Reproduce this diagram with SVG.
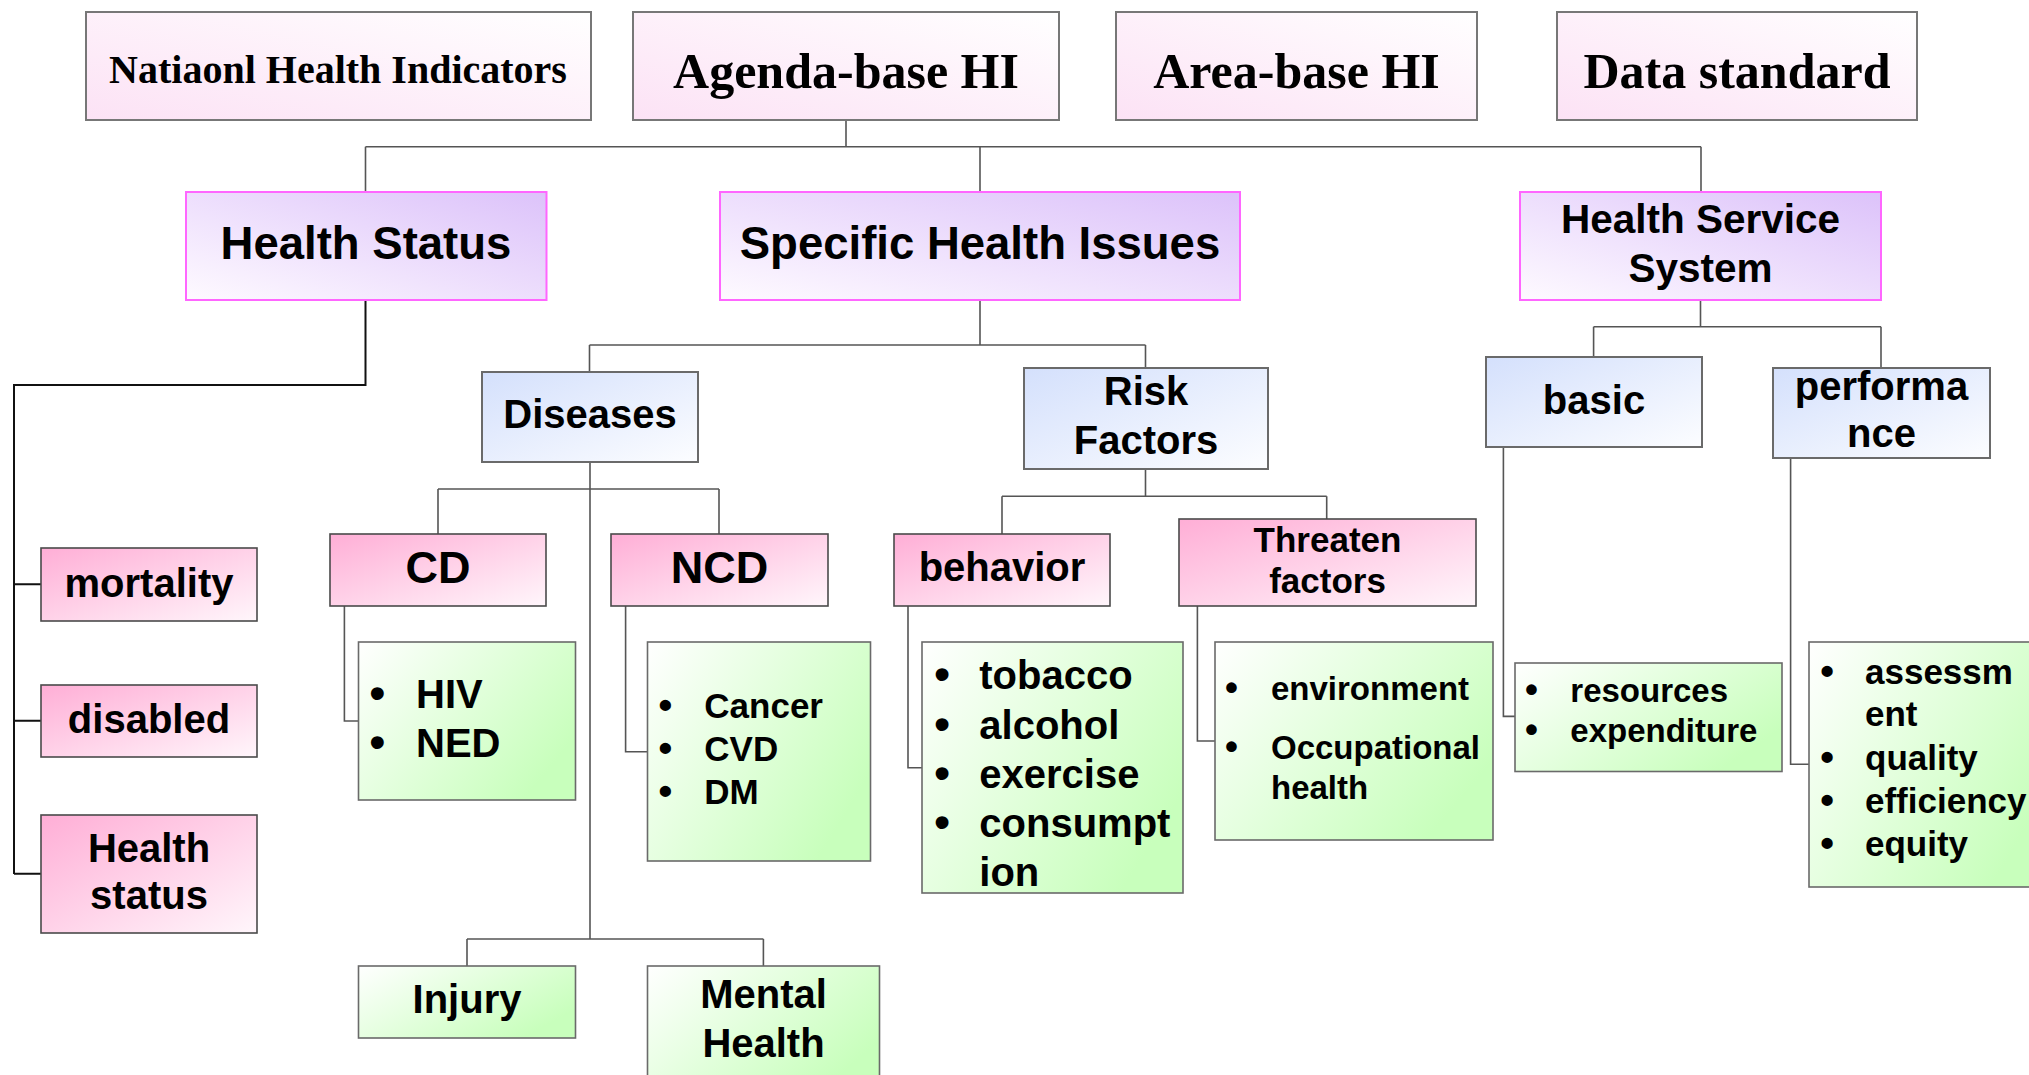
<svg xmlns="http://www.w3.org/2000/svg" width="2029" height="1075" viewBox="0 0 2029 1075">
<defs>
<linearGradient id="gTop" x1="0" y1="1" x2="1" y2="0"><stop offset="0" stop-color="#fce2f5"/><stop offset="1" stop-color="#ffffff"/></linearGradient>
<linearGradient id="gLav" x1="0" y1="1" x2="1" y2="0"><stop offset="0" stop-color="#fefaff"/><stop offset="1" stop-color="#dcc2fa"/></linearGradient>
<linearGradient id="gBlue" x1="0" y1="0" x2="1" y2="1"><stop offset="0" stop-color="#d4e0fc"/><stop offset="1" stop-color="#fcfdff"/></linearGradient>
<linearGradient id="gPink" x1="0" y1="0" x2="1" y2="1"><stop offset="0" stop-color="#ffaed6"/><stop offset="1" stop-color="#fff6fb"/></linearGradient>
<linearGradient id="gGreen" x1="0" y1="0" x2="1" y2="0.6"><stop offset="0" stop-color="#ffffff"/><stop offset="1" stop-color="#c8ffbc"/></linearGradient>
</defs>
<style>
.top{fill:url(#gTop);stroke:#777;stroke-width:2}
.lav{fill:url(#gLav);stroke:#ff66ff;stroke-width:2}
.blue{fill:url(#gBlue);stroke:#6a6a6a;stroke-width:2}
.pink{fill:url(#gPink);stroke:#4a4a4a;stroke-width:1.6}
.green{fill:url(#gGreen);stroke:#6a6a6a;stroke-width:1.6}
.serif{font-family:"Liberation Serif","Times New Roman",serif;font-weight:bold;fill:#000;text-anchor:middle}
.sans{font-family:"Liberation Sans",Arial,sans-serif;font-weight:bold;fill:#000}
.c{text-anchor:middle}
.b{font-size:1.12em}
.conn{fill:none;stroke:#555;stroke-width:1.6}
.connB{fill:none;stroke:#111;stroke-width:2}
</style>
<g id="connectors">
<path class="conn" d="M846 120V146.7M365.5 146.7H1701M365.5 146.7V192M980 146.7V192M1701 146.7V192"/>
<path class="connB" d="M365.5 300V385H14V874M14 584.3H41M14 720.7H41M14 873.7H41"/>
<path class="conn" d="M980 300V345M589.5 345H1145.5M589.5 345V372M1145.5 345V368"/>
<path class="conn" d="M590 462V939M438 489H719M438 489V534M719 489V534M467 939H763.4M467 939V966M763.4 939V966"/>
<path class="conn" d="M344.4 606V721H358.5M625.6 606V751.7H647.5"/>
<path class="conn" d="M1145.5 469V496.3M1002 496.3H1326.7M1002 496.3V534M1326.7 496.3V519"/>
<path class="conn" d="M908 606V767.7H922M1197.4 606V741H1215"/>
<path class="conn" d="M1700.5 300V326.8M1593.6 326.8H1881M1593.6 326.8V357M1881 326.8V368"/>
<path class="conn" d="M1503.4 447V716.4H1515M1790.6 458V764.2H1809"/>
</g>
<g id="n-national"><rect class="top" x="86" y="12" width="505" height="108"/><text class="serif" x="338" y="83.3" font-size="40">Natiaonl Health Indicators</text></g>
<g id="n-agenda"><rect class="top" x="633" y="12" width="426" height="108"/><text class="serif" x="846" y="88.3" font-size="50">Agenda-base HI</text></g>
<g id="n-area"><rect class="top" x="1116" y="12" width="361" height="108"/><text class="serif" x="1296.5" y="88.3" font-size="50">Area-base HI</text></g>
<g id="n-data"><rect class="top" x="1557" y="12" width="360" height="108"/><text class="serif" x="1737" y="88.3" font-size="50">Data standard</text></g>

<g id="n-healthstatus"><rect class="lav" x="186" y="192" width="360.5" height="108"/><text class="sans c" x="366" y="259.3" font-size="45.5">Health Status</text></g>
<g id="n-specific"><rect class="lav" x="720" y="192" width="520" height="108"/><text class="sans c" x="980" y="259.3" font-size="45.5">Specific Health Issues</text></g>
<g id="n-hss"><rect class="lav" x="1520" y="192" width="361" height="108"/><text class="sans c" x="1700.5" y="233.3" font-size="40.5">Health Service</text><text class="sans c" x="1700.5" y="281.7" font-size="40.5">System</text></g>

<g id="n-diseases"><rect class="blue" x="482" y="372" width="216" height="90"/><text class="sans c" x="590" y="427.7" font-size="40">Diseases</text></g>
<g id="n-risk"><rect class="blue" x="1024" y="368" width="244" height="101"/><text class="sans c" x="1146" y="405.2" font-size="40">Risk</text><text class="sans c" x="1146" y="454.2" font-size="40">Factors</text></g>
<g id="n-basic"><rect class="blue" x="1486" y="357" width="216" height="90"/><text class="sans c" x="1594" y="413.7" font-size="40">basic</text></g>
<g id="n-performance"><rect class="blue" x="1773" y="368" width="217" height="90"/><text class="sans c" x="1881.5" y="400.3" font-size="40">performa</text><text class="sans c" x="1881.5" y="447.3" font-size="40">nce</text></g>

<g id="n-mortality"><rect class="pink" x="41" y="548" width="216" height="73"/><text class="sans c" x="149" y="596.7" font-size="40">mortality</text></g>
<g id="n-disabled"><rect class="pink" x="41" y="685" width="216" height="72"/><text class="sans c" x="149" y="733.3" font-size="40">disabled</text></g>
<g id="n-healthstatus2"><rect class="pink" x="41" y="815" width="216" height="118"/><text class="sans c" x="149" y="861.7" font-size="40">Health</text><text class="sans c" x="149" y="909.3" font-size="40">status</text></g>
<g id="n-cd"><rect class="pink" x="330" y="534" width="216" height="72"/><text class="sans c" x="438" y="583.3" font-size="45">CD</text></g>
<g id="n-ncd"><rect class="pink" x="611" y="534" width="217" height="72"/><text class="sans c" x="719.5" y="583.3" font-size="45">NCD</text></g>
<g id="n-behavior"><rect class="pink" x="894" y="534" width="216" height="72"/><text class="sans c" x="1002" y="580.5" font-size="40">behavior</text></g>
<g id="n-threaten"><rect class="pink" x="1179" y="519" width="297" height="87"/><text class="sans c" x="1327.5" y="551.8" font-size="35">Threaten</text><text class="sans c" x="1327.5" y="592.8" font-size="35">factors</text></g>

<g id="n-cd-list" class="sans" font-size="40"><rect class="green" x="358.5" y="642" width="217" height="158"/>
<text y="708.3"><tspan x="369.5" class="b">•</tspan><tspan x="416">HIV</tspan></text>
<text y="757.3"><tspan x="369.5" class="b">•</tspan><tspan x="416">NED</tspan></text></g>
<g id="n-ncd-list" class="sans" font-size="35"><rect class="green" x="647.5" y="642" width="223" height="219"/>
<text y="718.3"><tspan x="658.5" class="b">•</tspan><tspan x="704.3">Cancer</tspan></text>
<text y="761"><tspan x="658.5" class="b">•</tspan><tspan x="704.3">CVD</tspan></text>
<text y="804.3"><tspan x="658.5" class="b">•</tspan><tspan x="704.3">DM</tspan></text></g>
<g id="n-behavior-list" class="sans" font-size="40"><rect class="green" x="922" y="642" width="261" height="251"/>
<text y="689"><tspan x="934.3" class="b">•</tspan><tspan x="979.3">tobacco</tspan></text>
<text y="738.5"><tspan x="934.3" class="b">•</tspan><tspan x="979.3">alcohol</tspan></text>
<text y="787.5"><tspan x="934.3" class="b">•</tspan><tspan x="979.3">exercise</tspan></text>
<text y="836.5"><tspan x="934.3" class="b">•</tspan><tspan x="979.3">consumpt</tspan></text>
<text y="885.5"><tspan x="979.3">ion</tspan></text></g>
<g id="n-threaten-list" class="sans" font-size="33"><rect class="green" x="1215" y="642" width="278" height="198"/>
<text y="700"><tspan x="1225" class="b">•</tspan><tspan x="1271">environment</tspan></text>
<text y="759.2"><tspan x="1225" class="b">•</tspan><tspan x="1271">Occupational</tspan></text>
<text y="799.4"><tspan x="1271">health</tspan></text></g>
<g id="n-basic-list" class="sans" font-size="33"><rect class="green" x="1515" y="663" width="267" height="108.5"/>
<text y="701.8"><tspan x="1525" class="b">•</tspan><tspan x="1570.3">resources</tspan></text>
<text y="742"><tspan x="1525" class="b">•</tspan><tspan x="1570.3">expenditure</tspan></text></g>
<g id="n-perf-list" class="sans" font-size="35"><rect class="green" x="1809" y="642" width="240" height="245"/>
<text y="683.5"><tspan x="1820.3" class="b">•</tspan><tspan x="1865">assessm</tspan></text>
<text y="725.5"><tspan x="1865">ent</tspan></text>
<text y="770"><tspan x="1820.3" class="b">•</tspan><tspan x="1865">quality</tspan></text>
<text y="813"><tspan x="1820.3" class="b">•</tspan><tspan x="1865">efficiency</tspan></text>
<text y="856"><tspan x="1820.3" class="b">•</tspan><tspan x="1865">equity</tspan></text></g>

<g id="n-injury"><rect class="green" x="358.5" y="966" width="217" height="72"/><text class="sans c" x="467" y="1013.3" font-size="40">Injury</text></g>
<g id="n-mental"><rect class="green" x="647.5" y="966" width="232" height="124"/><text class="sans c" x="763.5" y="1008.3" font-size="40">Mental</text><text class="sans c" x="763.5" y="1056.7" font-size="40">Health</text></g>
</svg>
